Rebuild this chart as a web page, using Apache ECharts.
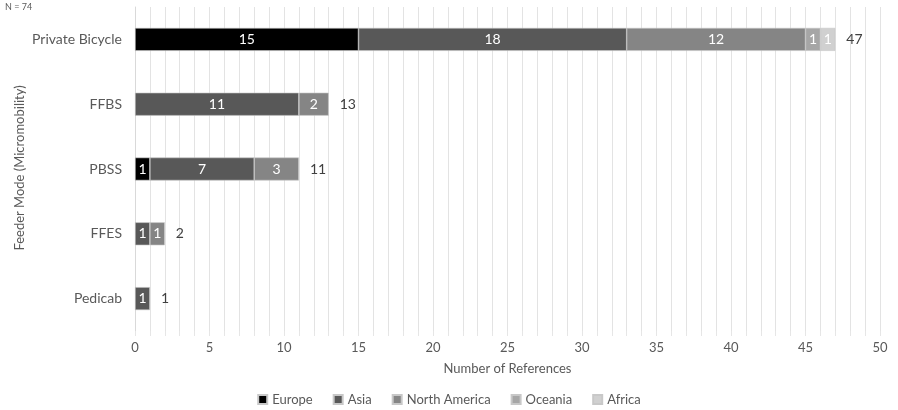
<!DOCTYPE html>
<html>
<head>
<meta charset="utf-8">
<script src="https://cdn.jsdelivr.net/npm/echarts@6/dist/echarts.min.js"></script>
<style>
html,body{margin:0;padding:0;background:#fff;}
#chart{width:898px;height:410px;}
</style>
</head>
<body>
<div id="chart"></div>
<script>
const categories = ['Private Bicycle', 'FFBS', 'PBSS', 'FFES', 'Pedicab'];
const europe = [15, 0, 1, 0, 0];
const asia = [18, 11, 7, 1, 1];
const northAmerica = [12, 2, 3, 1, 0];
const oceania = [1, 0, 0, 0, 0];
const africa = [1, 0, 0, 0, 0];
const seriesNames = ['Europe', 'Asia', 'North America', 'Oceania', 'Africa'];
const seriesColors = ['#000000', '#585858', '#858585', '#a6a6a6', '#d0d0d0'];
const allSeries = [europe, asia, northAmerica, oceania, africa];
const totals = categories.map((c, i) => allSeries.reduce((s, arr) => s + arr[i], 0));

const FONT = 'Lato';
const chart = echarts.init(document.getElementById('chart'), null, {renderer: 'canvas'});

const series = allSeries.map((arr, k) => ({
  name: seriesNames[k],
  type: 'bar',
  stack: 'total',
  barWidth: 23,
  data: arr.map(v => v === 0 ? '-' : v),
  itemStyle: {color: seriesColors[k], borderColor: '#c8c8c8', borderWidth: 0.6},
  label: {
    show: true,
    position: 'inside',
    color: '#ffffff',
    fontFamily: FONT,
    fontSize: 14,
    formatter: p => (p.value ? String(p.value) : '')
  },
  emphasis: {disabled: true}
}));

series.push({
  name: 'Total',
  type: 'bar',
  stack: 'total',
  barWidth: 23,
  data: totals.map(() => 0),
  itemStyle: {color: 'transparent'},
  label: {
    show: true,
    position: 'right',
    distance: 11,
    color: '#404040',
    fontFamily: FONT,
    fontSize: 14,
    formatter: p => String(totals[p.dataIndex])
  },
  emphasis: {disabled: true}
});

chart.setOption({
  animation: false,
  textStyle: {fontFamily: FONT},
  graphic: [{
    type: 'text', left: 5, top: 3,
    style: {text: 'N = 74', fill: '#595959', font: '9px ' + FONT}
  }, {
    type: 'text', x: 20, y: 168, rotation: Math.PI / 2,
    style: {text: 'Feeder Mode (Micromobility)', fill: '#595959', font: '13px ' + FONT,
            align: 'center', verticalAlign: 'middle'}
  }],
  legend: {
    data: seriesNames,
    bottom: -1,
    left: 'center',
    itemWidth: 9,
    itemHeight: 9,
    itemGap: 20,
    icon: 'rect',
    textStyle: {color: '#595959', fontSize: 13, fontFamily: FONT}
  },
  grid: {left: 135, right: 18, top: 7, bottom: 79, containLabel: false},
  xAxis: {
    type: 'value',
    min: 0,
    max: 50,
    interval: 5,
    name: 'Number of References',
    nameLocation: 'middle',
    nameGap: 31,
    nameTextStyle: {color: '#595959', fontSize: 13, fontFamily: FONT},
    axisLine: {show: false},
    axisTick: {show: true, length: 5, lineStyle: {color: '#e6e6e6'}},
    minorTick: {show: true, splitNumber: 5, length: 5, lineStyle: {color: '#e6e6e6'}},
    axisLabel: {color: '#595959', fontSize: 13, fontFamily: FONT, margin: 10},
    splitLine: {show: true, lineStyle: {color: '#e3e3e3', width: 1}},
    minorSplitLine: {show: true, lineStyle: {color: '#e3e3e3', width: 1}}
  },
  yAxis: {
    type: 'category',
    data: categories,
    inverse: true,
    axisLine: {show: true, lineStyle: {color: '#d9d9d9'}},
    axisTick: {show: false},
    axisLabel: {color: '#595959', fontSize: 14, fontFamily: FONT, margin: 13}
  },
  series: series
});
</script>
</body>
</html>
